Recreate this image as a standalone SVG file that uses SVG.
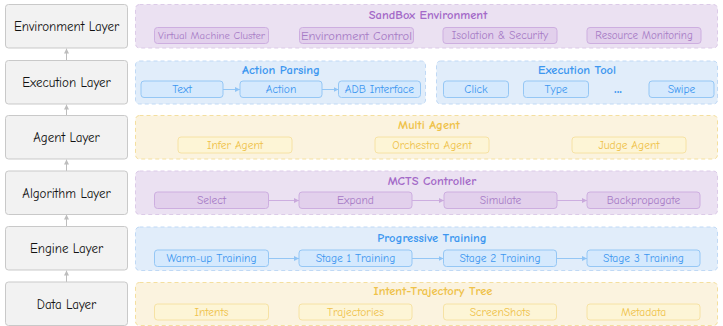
<svg xmlns="http://www.w3.org/2000/svg" width="723" height="326" viewBox="0 0 723 326">
<defs>
<marker id="ag" viewBox="0 0 6 6" refX="6" refY="3" markerWidth="5" markerHeight="5" orient="auto"><path d="M0,0 L6,3 L0,6 z" fill="#bdbdbd"/></marker>
<marker id="ab" viewBox="0 0 6 6" refX="6" refY="3" markerWidth="5" markerHeight="5" orient="auto"><path d="M0,0 L6,3 L0,6 z" fill="#90c4f5"/></marker>
<marker id="ap" viewBox="0 0 6 6" refX="6" refY="3" markerWidth="5" markerHeight="5" orient="auto"><path d="M0,0 L6,3 L0,6 z" fill="#c9a9dc"/></marker>
</defs>
<style>
text{font-family:"Comic Sans MS","Comic Neue","Liberation Sans",sans-serif;text-anchor:middle;dominant-baseline:central}
.layer rect{fill:#f2f2f2;stroke:#c9c9c9;stroke-width:1}
.layer text{font-size:13px;fill:#111}
.pp{fill:#ebe1f2;stroke:#dccbe8;stroke-dasharray:4 3}
.pb{fill:#e1edfa;stroke:#c0d9f5;stroke-dasharray:4 3}
.py{fill:#fbf3df;stroke:#f4df9f;stroke-dasharray:4 3}
.sp{fill:#e2d0ec;stroke:#cdaee0}
.sb{fill:#d5e9fd;stroke:#95c7f5}
.sy{fill:#fdf5d6;stroke:#f6e2a4}
.tp{fill:#a46ac8;font-size:12.5px;font-weight:bold}
.tb{fill:#3d97f0;font-size:12.5px;font-weight:bold}
.ty{fill:#efc24a;font-size:12.5px;font-weight:bold}
.lp{fill:#a77cc6;font-size:11.5px}
.lb{fill:#3d97f0;font-size:11.5px}
.ly{fill:#efc24a;font-size:11.5px}
.c line{stroke-width:1}
</style>
<g class="c" id="connectors">
<line x1="66.5" y1="60.5" x2="66.5" y2="48.5" stroke="#bdbdbd" marker-end="url(#ag)"/>
<line x1="66.5" y1="115.5" x2="66.5" y2="104.5" stroke="#bdbdbd" marker-end="url(#ag)"/>
<line x1="66.5" y1="171" x2="66.5" y2="159.5" stroke="#bdbdbd" marker-end="url(#ag)"/>
<line x1="66.5" y1="226.5" x2="66.5" y2="214.5" stroke="#bdbdbd" marker-end="url(#ag)"/>
<line x1="66.5" y1="282" x2="66.5" y2="270.5" stroke="#bdbdbd" marker-end="url(#ag)"/>
</g>
<g class="layer" id="environment-layer"><rect x="5.5" y="4.5" width="122" height="43.5" rx="3"/><text x="66.5" y="26.5">Environment Layer</text></g>
<g class="layer" id="execution-layer"><rect x="5.5" y="60.5" width="122" height="43.5" rx="3"/><text x="66.5" y="82.5">Execution Layer</text></g>
<g class="layer" id="agent-layer"><rect x="5.5" y="115.5" width="122" height="43.5" rx="3"/><text x="66.5" y="137.5">Agent Layer</text></g>
<g class="layer" id="algorithm-layer"><rect x="5.5" y="171" width="122" height="43.5" rx="3"/><text x="66.5" y="193">Algorithm Layer</text></g>
<g class="layer" id="engine-layer"><rect x="5.5" y="226.5" width="122" height="43.5" rx="3"/><text x="66.5" y="248.5">Engine Layer</text></g>
<g class="layer" id="data-layer"><rect x="5.5" y="282" width="122" height="43.5" rx="3"/><text x="66.5" y="304">Data Layer</text></g>

<g id="sandbox-environment">
<rect class="pp" x="135.5" y="4.5" width="582" height="43.5" rx="4"/>
<text class="tp" x="428" y="15">SandBox Environment</text>
<rect class="sp" x="154.5" y="27.5" width="114" height="16" rx="3"/><text class="lp" x="211.5" y="35.5" style="font-size:10.8px">Virtual Machine Cluster</text>
<rect class="sp" x="299.5" y="27.5" width="114" height="16" rx="3"/><text class="lp" x="356.5" y="35.5" style="font-size:12.5px">Environment Control</text>
<rect class="sp" x="443" y="27.5" width="114" height="16" rx="3"/><text class="lp" x="500" y="35.5">Isolation &amp; Security</text>
<rect class="sp" x="587" y="27.5" width="114" height="16" rx="3"/><text class="lp" x="644" y="35.5" style="font-size:11px">Resource Monitoring</text>
</g>

<g id="action-parsing">
<rect class="pb" x="135.5" y="61" width="290" height="43" rx="4"/>
<text class="tb" x="281" y="70">Action Parsing</text>
<rect class="sb" x="141" y="81" width="82" height="16.5" rx="3"/><text class="lb" x="182" y="89.5">Text</text>
<rect class="sb" x="240" y="81" width="82" height="16.5" rx="3"/><text class="lb" x="281" y="89.5">Action</text>
<rect class="sb" x="338.5" y="81" width="82" height="16.5" rx="3"/><text class="lb" x="379.5" y="89.5">ADB Interface</text>
<line x1="223" y1="89.5" x2="240" y2="89.5" stroke="#95c7f5" marker-end="url(#ab)"/>
<line x1="322" y1="89.5" x2="338.5" y2="89.5" stroke="#95c7f5" marker-end="url(#ab)"/>
</g>

<g id="execution-tool">
<rect class="pb" x="436.5" y="61" width="281" height="43" rx="4"/>
<text class="tb" x="577" y="70">Execution Tool</text>
<rect class="sb" x="443.5" y="81" width="65" height="16.5" rx="3"/><text class="lb" x="476" y="89.5">Click</text>
<rect class="sb" x="523.5" y="81" width="65" height="16.5" rx="3"/><text class="lb" x="556" y="89.5">Type</text>
<text class="lb" x="618" y="88" style="font-size:15px;font-weight:bold">...</text>
<rect class="sb" x="649" y="81" width="65" height="16.5" rx="3"/><text class="lb" x="681.5" y="89.5">Swipe</text>
</g>

<g id="multi-agent">
<rect class="py" x="135.5" y="115.5" width="582" height="43.5" rx="4"/>
<text class="ty" x="429" y="125">Multi Agent</text>
<rect class="sy" x="178" y="137" width="114" height="16" rx="3"/><text class="ly" x="235" y="145">Infer Agent</text>
<rect class="sy" x="375" y="137" width="114" height="16" rx="3"/><text class="ly" x="432" y="145">Orchestra Agent</text>
<rect class="sy" x="572" y="137" width="114" height="16" rx="3"/><text class="ly" x="629" y="145">Judge Agent</text>
</g>

<g id="mcts-controller">
<rect class="pp" x="135.5" y="171" width="582" height="43.5" rx="4"/>
<text class="tp" x="432" y="180.5">MCTS Controller</text>
<rect class="sp" x="154.5" y="192" width="114" height="16.5" rx="3"/><text class="lp" x="211.5" y="200.5">Select</text>
<rect class="sp" x="299" y="192" width="113" height="16.5" rx="3"/><text class="lp" x="355.5" y="200.5">Expand</text>
<rect class="sp" x="444" y="192" width="113" height="16.5" rx="3"/><text class="lp" x="500.5" y="200.5">Simulate</text>
<rect class="sp" x="587" y="192" width="113" height="16.5" rx="3"/><text class="lp" x="643.5" y="200.5">Backpropagate</text>
<line x1="268.5" y1="200.5" x2="299" y2="200.5" stroke="#cdaee0" marker-end="url(#ap)"/>
<line x1="412" y1="200.5" x2="444" y2="200.5" stroke="#cdaee0" marker-end="url(#ap)"/>
<line x1="557" y1="200.5" x2="587" y2="200.5" stroke="#cdaee0" marker-end="url(#ap)"/>
</g>

<g id="progressive-training">
<rect class="pb" x="135.5" y="227" width="582" height="43.5" rx="4"/>
<text class="tb" x="432" y="237.5">Progressive Training</text>
<rect class="sb" x="154.5" y="250" width="114" height="16.5" rx="3"/><text class="lb" x="211.5" y="258.5">Warm-up Training</text>
<rect class="sb" x="299" y="250" width="113" height="16.5" rx="3"/><text class="lb" x="355.5" y="258.5">Stage 1 Training</text>
<rect class="sb" x="443.5" y="250" width="113" height="16.5" rx="3"/><text class="lb" x="500" y="258.5">Stage 2 Training</text>
<rect class="sb" x="587" y="250" width="113" height="16.5" rx="3"/><text class="lb" x="643.5" y="258.5">Stage 3 Training</text>
<line x1="268.5" y1="258.5" x2="299" y2="258.5" stroke="#95c7f5" marker-end="url(#ab)"/>
<line x1="412" y1="258.5" x2="443.5" y2="258.5" stroke="#95c7f5" marker-end="url(#ab)"/>
<line x1="556.5" y1="258.5" x2="587" y2="258.5" stroke="#95c7f5" marker-end="url(#ab)"/>
</g>

<g id="intent-trajectory-tree">
<rect class="py" x="135.5" y="282.5" width="582" height="43" rx="4"/>
<text class="ty" x="433" y="291">Intent-Trajectory Tree</text>
<rect class="sy" x="154.5" y="304" width="114" height="16" rx="3"/><text class="ly" x="211.5" y="312">Intents</text>
<rect class="sy" x="299" y="304" width="113" height="16" rx="3"/><text class="ly" x="355.5" y="312">Trajectories</text>
<rect class="sy" x="443.5" y="304" width="113" height="16" rx="3"/><text class="ly" x="500" y="312">ScreenShots</text>
<rect class="sy" x="587" y="304" width="113" height="16" rx="3"/><text class="ly" x="643.5" y="312">Metadata</text>
</g>
</svg>
